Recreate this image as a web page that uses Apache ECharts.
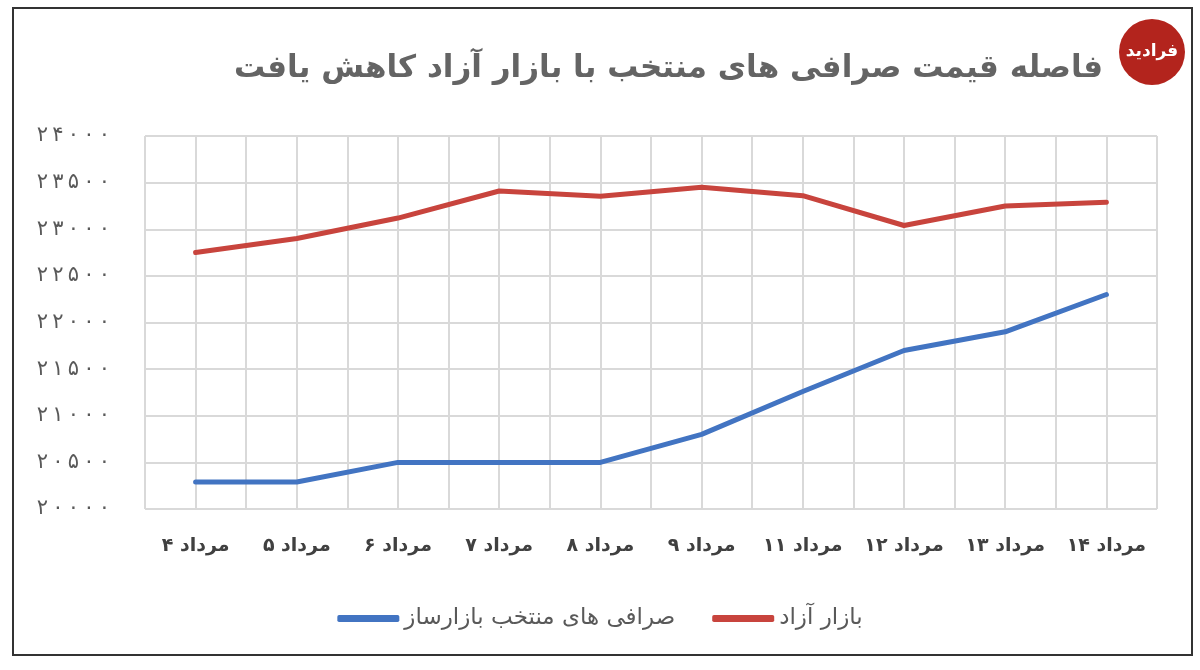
<!DOCTYPE html>
<html>
<head>
<meta charset="utf-8">
<script src="https://cdn.jsdelivr.net/npm/echarts@6/dist/echarts.min.js"></script>
<style>
  html, body { margin: 0; padding: 0; background: #fff; }
  #chart { width: 1200px; height: 670px; }
</style>
</head>
<body>
<div id="chart"></div>
<script>
// دسته ها (روزهای مرداد)
var categories = ['۴ مرداد', '۵ مرداد', '۶ مرداد', '۷ مرداد', '۸ مرداد', '۹ مرداد', '۱۱ مرداد', '۱۲ مرداد', '۱۳ مرداد', '۱۴ مرداد'];
// صرافی های منتخب بازارساز
var exchangeValues = [20290, 20290, 20500, 20500, 20500, 20800, 21260, 21700, 21900, 22300];
// بازار آزاد
var freeMarketValues = [22750, 22900, 23120, 23410, 23355, 23450, 23360, 23040, 23250, 23290];
// محور عمودی
var yTicks = [20000, 20500, 21000, 21500, 22000, 22500, 23000, 23500, 24000];

var seriesNames = ['صرافی های منتخب بازارساز', 'بازار آزاد'];
var titleText = 'فاصله قیمت صرافی های منتخب با بازار آزاد کاهش یافت';

var FONT = '"DejaVu Sans", "Noto Sans", sans-serif';
var BLUE = '#4274c2';
var RED = '#c8443d';
var GRID = '#d9d9d9';

// تبدیل ارقام به فارسی، با فاصله باریک بین ارقام
var toFa = function(n) {
    return String(n).replace(/[0-9]/g, function(d) {
        return '۰۱۲۳۴۵۶۷۸۹'.charAt(+d);
    }).split('').join('\u2009');
};

var labelRich = {
    fontFamily: FONT,
    fontSize: 19,
    fontWeight: 'bold',
    color: '#404040'
};

var myChart = echarts.init(document.getElementById('chart'));

var option = {
    backgroundColor: '#fff',
    animation: false,
    title: {
        text: titleText,
        right: 92,
        top: 48,
        textStyle: {
            fontFamily: FONT,
            fontSize: 31,
            fontWeight: 'bold',
            color: '#646464'
        }
    },
    legend: {
        data: seriesNames,
        bottom: 35,
        left: 'center',
        icon: 'roundRect',
        itemWidth: 62,
        itemHeight: 7,
        itemGap: 37,
        textStyle: {
            fontFamily: FONT,
            fontSize: 23,
            color: '#595959'
        }
    },
    graphic: [{
        type: 'rect',
        shape: { x: 13, y: 8, width: 1179, height: 647 },
        style: { fill: null, stroke: '#333', lineWidth: 2 },
        z: 100
    }, {
        type: 'circle',
        shape: { cx: 1152, cy: 52, r: 33 },
        style: { fill: '#b3241d' },
        z: 100
    }, {
        type: 'text',
        x: 1152,
        y: 52,
        style: {
            text: 'فرادید',
            fill: '#fff',
            font: 'bold 17px ' + FONT,
            align: 'center',
            verticalAlign: 'middle'
        },
        z: 101
    }],
    grid: {
        left: 145,
        right: 43,
        top: 136,
        bottom: 161
    },
    xAxis: [{
        type: 'category',
        data: categories,
        boundaryGap: true,
        axisLine: { show: false },
        axisTick: { show: false },
        splitLine: { show: false },
        axisLabel: {
            interval: 0,
            margin: 28,
            fontFamily: FONT,
            fontSize: 19,
            fontWeight: 'bold',
            color: '#404040',
            // رقم و کلمه جدا چیده می شوند تا رقم سمت چپ بماند
            formatter: function(v) {
                var parts = v.split(' ');
                return '{n|' + parts[0] + '}{n| }{n|' + parts[1] + '}';
            },
            rich: { n: labelRich }
        }
    }, {
        // خطوط عمودی شبکه در نیمه هر دسته
        type: 'value',
        min: 0,
        max: categories.length * 2,
        interval: 1,
        show: true,
        position: 'bottom',
        axisLine: { show: false },
        axisTick: { show: false },
        axisLabel: { show: false },
        splitLine: { show: true, lineStyle: { color: GRID, width: 2 } }
    }],
    yAxis: {
        type: 'value',
        min: yTicks[0],
        max: yTicks[yTicks.length - 1],
        interval: yTicks[1] - yTicks[0],
        axisLine: { show: false },
        axisTick: { show: false },
        splitLine: { lineStyle: { color: GRID, width: 2 } },
        axisLabel: {
            margin: 35,
            fontFamily: FONT,
            fontSize: 21,
            color: '#595959',
            formatter: function(v) { return toFa(v); }
        }
    },
    series: [{
        name: seriesNames[0],
        type: 'line',
        data: exchangeValues,
        symbol: 'none',
        color: BLUE,
        lineStyle: { color: BLUE, width: 5, cap: 'round' },
        z: 3
    }, {
        name: seriesNames[1],
        type: 'line',
        data: freeMarketValues,
        symbol: 'none',
        color: RED,
        lineStyle: { color: RED, width: 5, cap: 'round' },
        z: 3
    }]
};

myChart.setOption(option);
</script>
</body>
</html>
